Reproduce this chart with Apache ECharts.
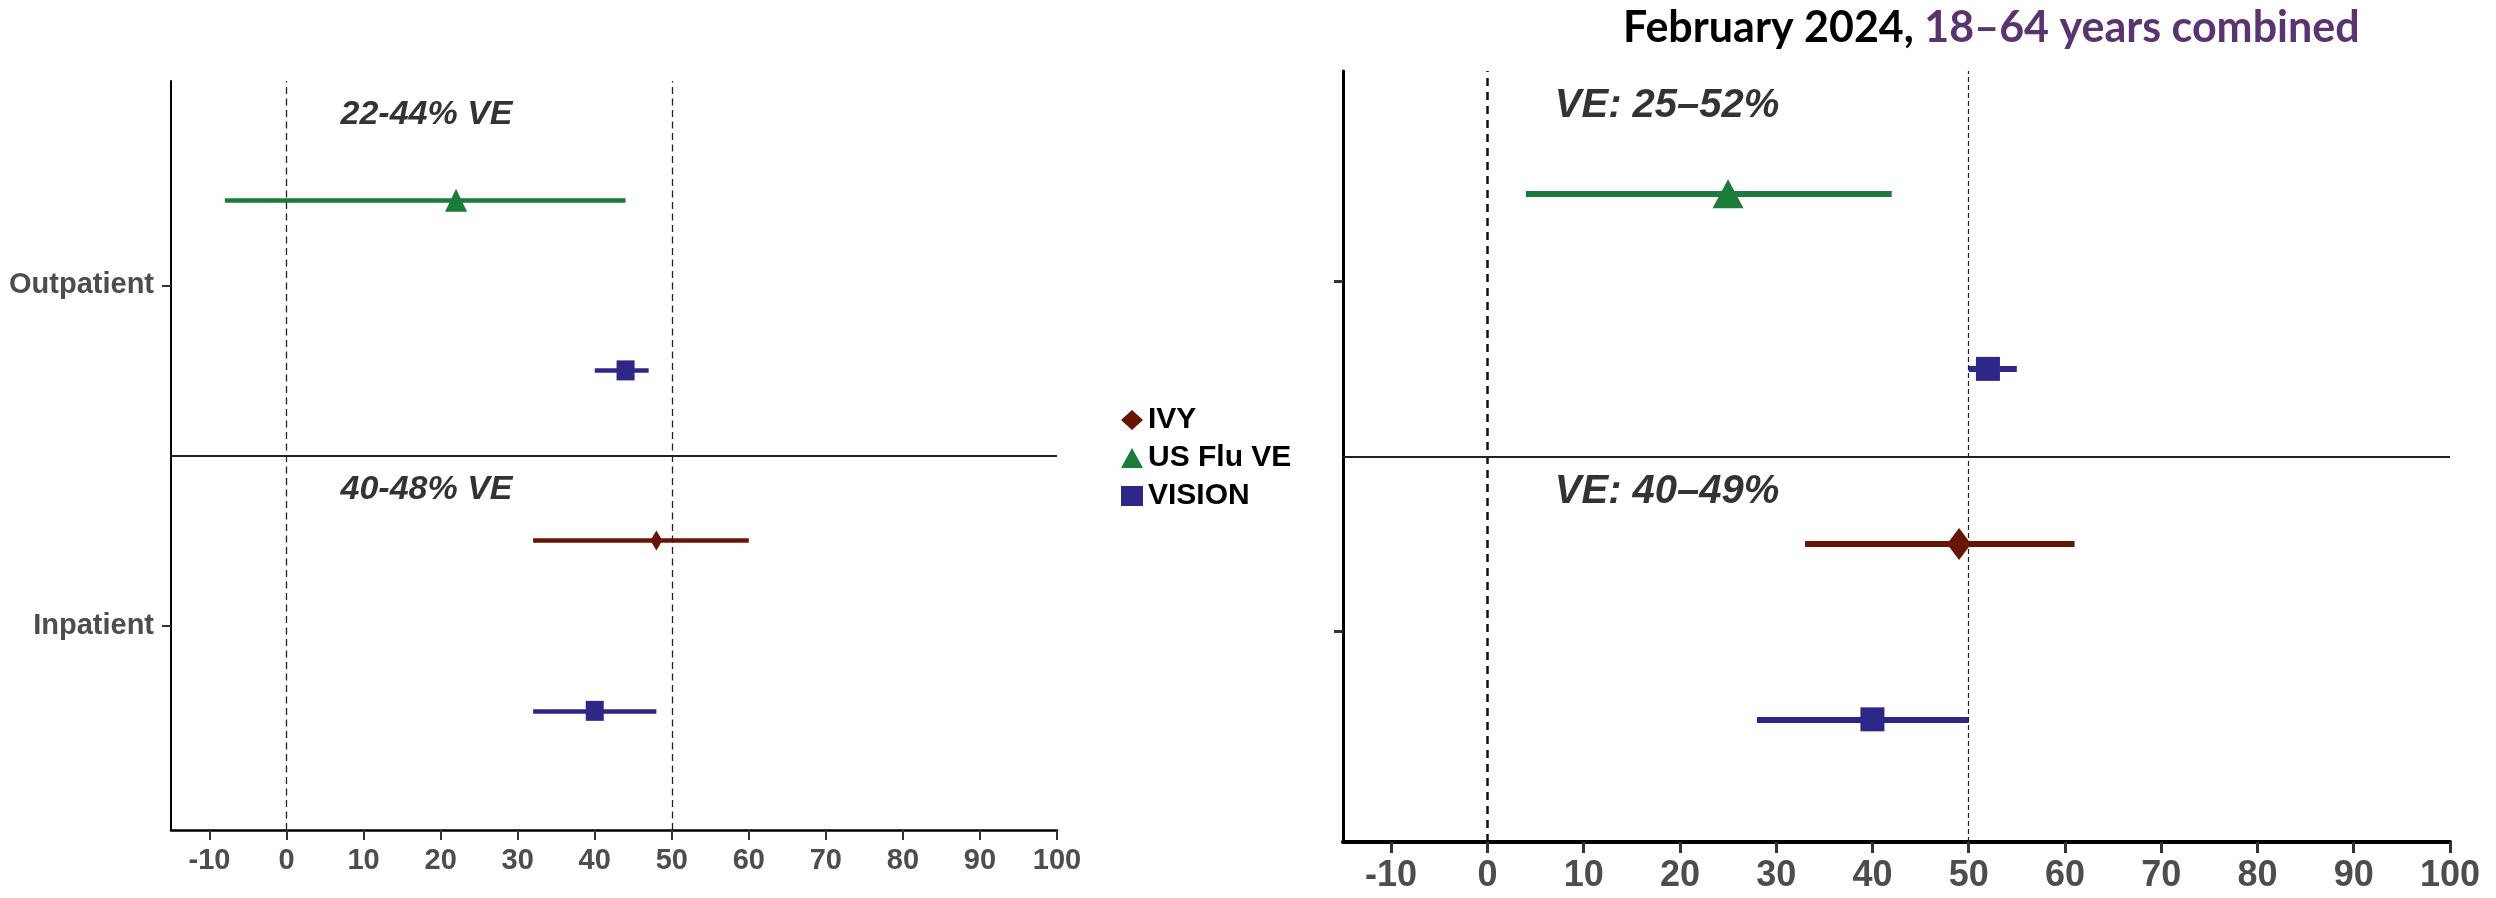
<!DOCTYPE html>
<html>
<head>
<meta charset="utf-8">
<script src="https://cdn.jsdelivr.net/npm/echarts@6/dist/echarts.min.js"></script>
<style>
  html, body { margin: 0; padding: 0; background: #ffffff; }
  #chart { width: 2496px; height: 898px; }
</style>
</head>
<body>
<div id="chart"></div>
<script>
// Care settings on the y axis (1 = Inpatient, 2 = Outpatient)
const settings = ['Inpatient', 'Outpatient'];
const studies = ['IVY', 'US Flu VE', 'VISION'];
const xTicks = [-10, 0, 10, 20, 30, 40, 50, 60, 70, 80, 90, 100];
const refLines = [0, 50];

// Rows shared by both panels
const rowStudy = ['US Flu VE', 'VISION', 'IVY', 'VISION'];
const rowSetting = ['Outpatient', 'Outpatient', 'Inpatient', 'Inpatient'];

// Left panel: VE estimates with 95% CI
const leftVE = [22, 44, 48, 40];
const leftLower = [-8, 40, 32, 32];
const leftUpper = [44, 47, 60, 48];
const leftRangeText = ['22-44% VE', '40-48% VE'];

// Right panel: February 2024, 18–64 years combined
const rightVE = [25, 52, 49, 40];
const rightLower = [4, 50, 33, 28];
const rightUpper = [42, 55, 61, 50];
const rightRangeText = ['VE: 25–52%', 'VE: 40–49%'];

const titleMain = 'February 2024, ';
const titleSub = '18–64 years combined';

// ---- styling / layout helpers ----
const studyColor = { 'IVY': '#6a1405', 'US Flu VE': '#1b7b3b', 'VISION': '#2e2788' };
const studySymbol = { 'IVY': 'diamond', 'US Flu VE': 'triangle', 'VISION': 'rect' };
const dodge = { 'IVY': 0.25, 'US Flu VE': 0.25, 'VISION': -0.25 };
const labelRow = [2.5, 1.4];
const labelX = 7;

function rowY(i) {
  return settings.indexOf(rowSetting[i]) + 1 + dodge[rowStudy[i]];
}

const panels = [
  {
    ve: leftVE, lo: leftLower, hi: leftUpper, text: leftRangeText,
    grid: { left: 171, top: 81, width: 886, height: 749 },
    axisX: 2.5, axisY: 2, tickW: 2, tickLen: 10,
    xFont: 29, yFont: 29, barW: 4.5,
    sizes: { 'IVY': [12, 20], 'US Flu VE': [22, 23], 'VISION': [18, 20] },
    annFont: 34, showYLabels: true,
    refStyle: [
      { width: 1.3, type: [7, 4.5], color: '#222' },
      { width: 1.3, type: [7, 4.5], color: '#222' }
    ],
    sepW: 2
  },
  {
    ve: rightVE, lo: rightLower, hi: rightUpper, text: rightRangeText,
    grid: { left: 1343, top: 71, width: 1107, height: 771 },
    axisX: 4, axisY: 3, tickW: 3, tickLen: 11,
    xFont: 36, yFont: 29, barW: 6,
    sizes: { 'IVY': [24, 32], 'US Flu VE': [31, 29], 'VISION': [24, 24] },
    annFont: 40, showYLabels: false,
    refStyle: [
      { width: 2.5, type: [8, 6], color: '#111' },
      { width: 1.2, type: [5, 3], color: '#222' }
    ],
    sepW: 2
  }
];

const grids = [], xAxes = [], yAxes = [], series = [];

panels.forEach((p, k) => {
  grids.push(Object.assign({ containLabel: false }, p.grid));

  xAxes.push({
    type: 'value', gridIndex: k, min: -15, max: 100,
    splitLine: { show: false },
    axisLine: { onZero: false, lineStyle: { color: '#000', width: p.axisX } },
    axisTick: { customValues: xTicks, length: p.tickLen, lineStyle: { color: '#333', width: p.tickW } },
    axisLabel: {
      customValues: xTicks, margin: 16, color: '#4d4d4d',
      fontFamily: 'Liberation Sans, Arial, sans-serif', fontWeight: 'bold', fontSize: p.xFont
    }
  });

  yAxes.push({
    type: 'value', gridIndex: k, min: 0.4, max: 2.6,
    splitLine: { show: false },
    axisLine: { onZero: false, lineStyle: { color: '#000', width: p.axisY } },
    axisTick: { customValues: [1, 2], length: 9, lineStyle: { color: '#333', width: p.tickW } },
    axisLabel: {
      show: p.showYLabels, customValues: [1, 2], margin: 17, color: '#4d4d4d',
      fontFamily: 'Liberation Sans, Arial, sans-serif', fontWeight: 'bold', fontSize: p.yFont,
      formatter: v => settings[Math.round(v) - 1]
    }
  });

  // Confidence intervals as horizontal segments
  series.push({
    type: 'lines', coordinateSystem: 'cartesian2d', xAxisIndex: k, yAxisIndex: k,
    silent: true, z: 3,
    data: p.ve.map((v, i) => ({
      coords: [[p.lo[i], rowY(i)], [p.hi[i], rowY(i)]],
      lineStyle: { color: studyColor[rowStudy[i]], width: p.barW, opacity: 1, cap: 'butt' }
    })),
    // reference lines at 0 and 50 plus the separator between settings
    markLine: {
      silent: true, symbol: 'none', label: { show: false },
      data: refLines.map((r, j) => ({ xAxis: r, lineStyle: p.refStyle[j] }))
        .concat([{ yAxis: 1.5, lineStyle: { width: p.sepW, type: 'solid', color: '#222' } }])
    }
  });

  // Point estimates, one series per study so the legend can pick them up
  studies.forEach(s => {
    const pts = [];
    p.ve.forEach((v, i) => { if (rowStudy[i] === s) pts.push([v, rowY(i)]); });
    series.push({
      name: s, type: 'scatter', xAxisIndex: k, yAxisIndex: k, z: 5,
      symbol: studySymbol[s], symbolSize: p.sizes[s],
      itemStyle: { color: studyColor[s], opacity: 1 },
      data: pts
    });
  });

  // Range annotations above each setting
  series.push({
    type: 'scatter', xAxisIndex: k, yAxisIndex: k, symbolSize: 0, silent: true, z: 6,
    data: p.text.map((t, j) => ({ value: [labelX, labelRow[j]], name: t })),
    label: {
      show: true, position: 'inside', align: 'left', verticalAlign: 'middle',
      formatter: d => d.name, color: '#000',
      fontFamily: 'Liberation Sans, Arial, sans-serif', fontWeight: 'bold', fontStyle: 'italic',
      fontSize: p.annFont
    }
  });
});

const chart = echarts.init(document.getElementById('chart'), null, { renderer: 'canvas' });
chart.setOption({
  backgroundColor: '#ffffff',
  animation: false,
  title: {
    left: 1618, top: 2,
    text: '{a|' + titleMain + '}{b|' + titleSub + '}',
    textStyle: {
      rich: {
        a: { fontFamily: 'Lato, sans-serif', fontWeight: 'bold', fontSize: 43, color: '#000' },
        b: { fontFamily: 'Lato, sans-serif', fontWeight: 'bold', fontSize: 43, color: '#5a3470' }
      }
    }
  },
  legend: {
    orient: 'vertical', left: 1116, top: 400, itemGap: 8,
    itemWidth: 22, itemHeight: 20,
    data: studies.map(s => ({ name: s, icon: studySymbol[s] })),
    textStyle: { fontFamily: 'Liberation Sans, Arial, sans-serif', fontWeight: 'bold', fontSize: 30, color: '#000' },
    selectedMode: false
  },
  grid: grids,
  xAxis: xAxes,
  yAxis: yAxes,
  series: series
});
</script>
</body>
</html>
